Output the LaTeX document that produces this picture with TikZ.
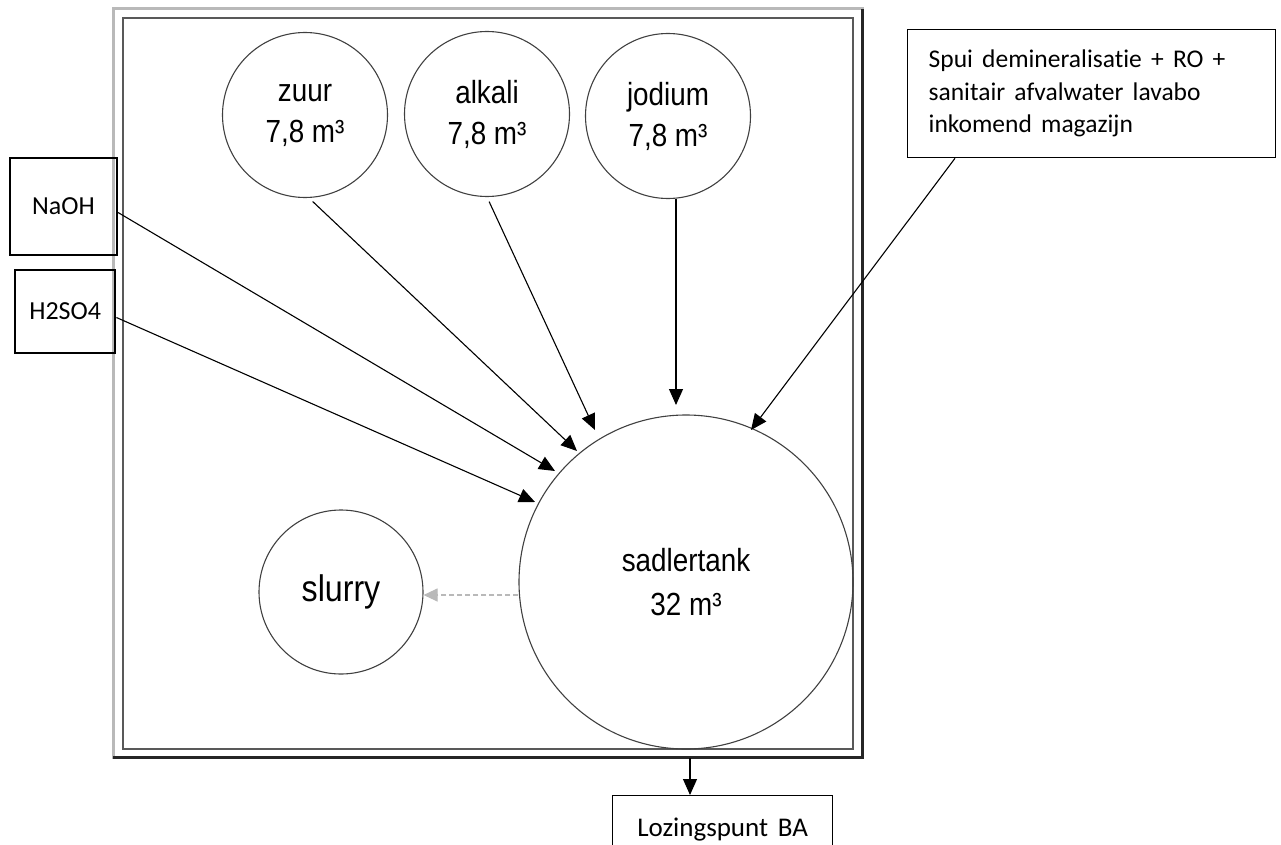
\documentclass[tikz,border=0pt]{standalone}
\usepackage{fontspec}
\setmainfont{Carlito}[Ligatures=NoCommon, WordSpace=1.6]
\newfontfamily\tankfont{Liberation Sans}[FakeStretch=0.87]
\usetikzlibrary{arrows.meta}

\tikzset{
    tank/.style={circle, draw=black!75, line width=1.1pt, inner sep=0pt, align=center,
        font=\tankfont\fontsize{32}{41}\selectfont},
    bron/.style={draw, line width=2.4pt, inner sep=0pt, align=flush left, anchor=north west,
        font=\fontsize{26}{32}\selectfont},
    stroom/.style={-{Triangle[length=16pt,width=14pt]}, line width=1.1pt},
}

\begin{document}
\begin{tikzpicture}[x=1pt, y=-1pt]
        \useasboundingbox (0,0) rectangle (1281,845);

        % ~~~~ Kader rond de installatie ~~~~%
        \draw[gray!55, line width=3pt] (113,9) rectangle (862,757);
        \draw[black!85, line width=3pt] (113,757) -- (862,757) -- (862,9);
        \draw[black!65, line width=2pt] (123,18) rectangle (853,749);
        \coordinate (uitlaat) at (690,758);

        % ~~~~ Tanks ~~~~%
        \node[tank, minimum size=165pt] (zuur) at (305,115) {zuur\\7,8 m³};
        \node[tank, minimum size=165pt] (alkali) at (487,114) {alkali\\7,8 m³};
        \node[tank, minimum size=165pt] (jodium) at (668,116) {jodium\\7,8 m³};
        \node[tank, minimum size=334pt, font=\tankfont\fontsize{32}{44}\selectfont]
            (sadler) at (686,582) {sadlertank\\32 m³};
        \node[tank, minimum size=164pt, font=\tankfont\fontsize{37}{40}\selectfont]
            (slurry) at (341,592) {slurry};

        % ~~~~ Toevoer van buiten ~~~~%
        \node[bron, minimum width=101pt, minimum height=97pt, inner xsep=22pt, align=center,
            anchor=center] (naoh) at (63.5,206.5) {NaOH};
        \node[bron, minimum width=100pt, minimum height=83pt, inner xsep=7pt, anchor=west]
            (zwavel) at (14,311.5) {H2SO4};
        \node[bron, line width=1.3pt, text width=326pt, minimum height=128pt, inner xsep=21pt,
            inner ysep=12pt, font=\fontsize{25.5}{32.5}\selectfont, anchor=north west]
            (spui) at (907,29) {\vphantom{p}\\[-27pt]Spui demineralisatie + RO +\\sanitair afvalwater lavabo\\inkomend magazijn};
        \node[bron, line width=1.3pt, minimum width=220pt, minimum height=66pt, inner xsep=23pt,
            font=\fontsize{27}{33}\selectfont, anchor=north west, text height=35pt, text depth=20pt]
            (lozing) at (612,795) {Lozingspunt BA};

        % ~~~~ Waar de pijlen aankomen ~~~~%
        \coordinate (inZwavel) at (535,502);
        \coordinate (inNaoh) at (555,471);
        \coordinate (inZuur) at (577,451);
        \coordinate (inAlkali) at (595,430);
        \coordinate (inJodium) at (676,405);
        \coordinate (inSpui) at (751,430);

        % ~~~~~ Pijlen naar de sadlertank ~~~~%
        \draw[stroom] ([yshift=-6pt]zwavel.east) -- (inZwavel);
        \draw[stroom] ([yshift=-6pt]naoh.east) -- (inNaoh);
        \draw[stroom, shorten <=5pt] ([xshift=4pt]zuur.south) -- (inZuur);
        \draw[stroom, shorten <=5pt] (alkali.south) -- (inAlkali);
        \draw[stroom] ([xshift=8pt]jodium.south) -- (inJodium);
        \draw[stroom] ([xshift=48pt]spui.south west) -- (inSpui);

        % ~~~~ Slib en lozing ~~~~%
        \draw[gray!55, line width=1.1pt, dash pattern=on 5pt off 3pt,
            -{Triangle[length=14pt,width=13pt]}]
            ([yshift=-13pt]sadler.west) -- ([yshift=-13pt]sadler.west -| slurry.east);
        \draw[stroom] (uitlaat) -- (uitlaat |- lozing.north);
    \end{tikzpicture}
\end{document}
